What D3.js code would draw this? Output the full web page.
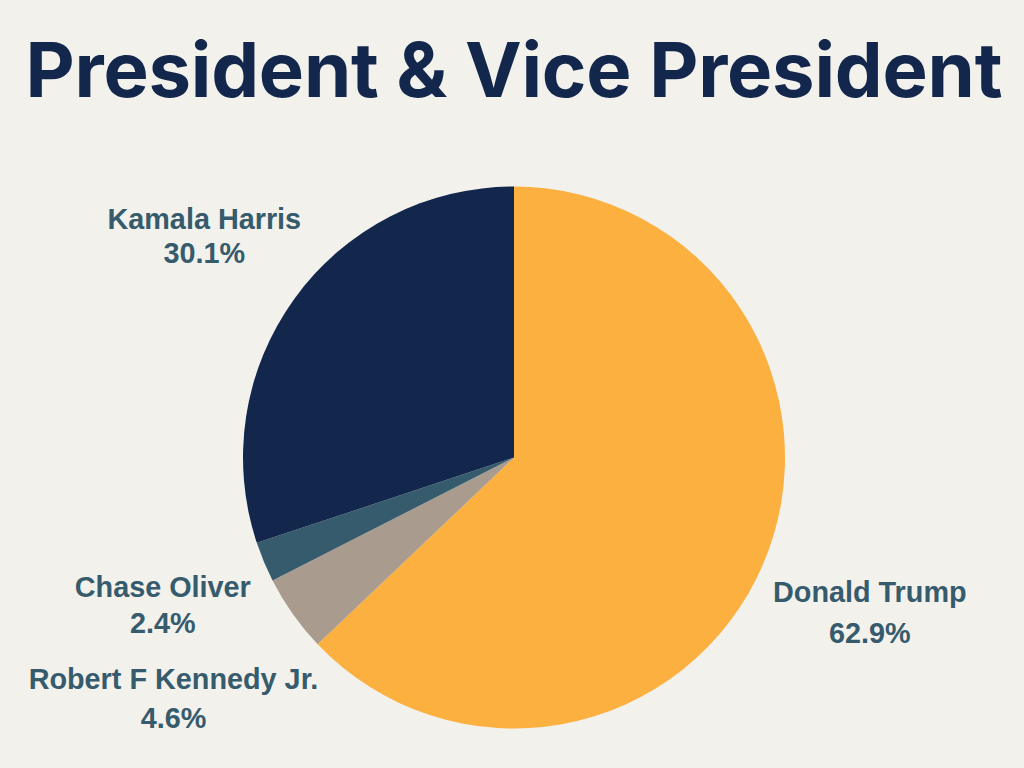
<!DOCTYPE html>
<html>
<head>
<meta charset="utf-8">
<script src="https://cdn.jsdelivr.net/npm/d3@7"></script>
<style>
  html, body { margin: 0; padding: 0; background: #F2F1EC; }
  svg { display: block; }
</style>
</head>
<body>
<svg id="chart" width="1024" height="768"></svg>
<script>
// ---- data ----
const candidates = ["Donald Trump", "Robert F Kennedy Jr.", "Chase Oliver", "Kamala Harris"];
const shares = [62.9, 4.6, 2.4, 30.1];
const shareLabels = ["62.9%", "4.6%", "2.4%", "30.1%"];
const titleText = "President & Vice President";

// ---- styling / layout ----
const sliceColors = ["#FBB040", "#AA9B8F", "#365B6D", "#13274D"];
const labelRadius = [392, 423, 385, 375];
const labelAngleNudge = [1.6, -1.1, -1.5, -1.5]; // degrees
const labelLineGap = [41, 39, 35.6, 34];

const W = 1024, H = 768;
const cx = 514, cy = 457.5, R = 271;

const svg = d3.select("#chart");
svg.append("rect").attr("width", W).attr("height", H).attr("fill", "#F2F1EC");

// title
const title = svg.append("text")
  .attr("x", W / 2 + 2)
  .attr("y", 97)
  .attr("text-anchor", "middle")
  .attr("fill", "#13274D")
  .style("font-family", "Inter, 'Open Sans', sans-serif")
  .style("font-weight", 700)
  .style("font-size", "76px")
  .text(titleText);
const tl = title.node().getComputedTextLength();
if (Math.abs(tl - 977) > 2) {
  title.attr("textLength", 977).attr("lengthAdjust", "spacing");
}

const data = candidates.map((c, i) => ({ name: c, value: shares[i], label: shareLabels[i], i }));

const pie = d3.pie().value(d => d.value).sort(null);
const arcs = pie(data);
const arc = d3.arc().innerRadius(0).outerRadius(R);

const g = svg.append("g").attr("transform", `translate(${cx},${cy})`);
g.selectAll("path")
  .data(arcs)
  .join("path")
  .attr("d", arc)
  .attr("fill", d => sliceColors[d.data.i]);

// labels
const lab = g.selectAll("g.lab")
  .data(arcs)
  .join("g")
  .attr("class", "lab")
  .attr("transform", d => {
    const i = d.data.i;
    const a = (d.startAngle + d.endAngle) / 2 + labelAngleNudge[i] * Math.PI / 180;
    const r = labelRadius[i];
    return `translate(${r * Math.sin(a)},${-r * Math.cos(a)})`;
  });

lab.append("text")
  .attr("y", d => -labelLineGap[d.data.i] / 2)
  .text(d => d.data.name);
lab.append("text")
  .attr("y", d => labelLineGap[d.data.i] / 2)
  .text(d => d.data.label);
lab.selectAll("text")
  .attr("text-anchor", "middle")
  .attr("fill", "#365B6D")
  .style("font-family", "'Liberation Sans', Arial, sans-serif")
  .style("font-weight", 700)
  .style("font-size", "28.8px");
</script>
</body>
</html>
